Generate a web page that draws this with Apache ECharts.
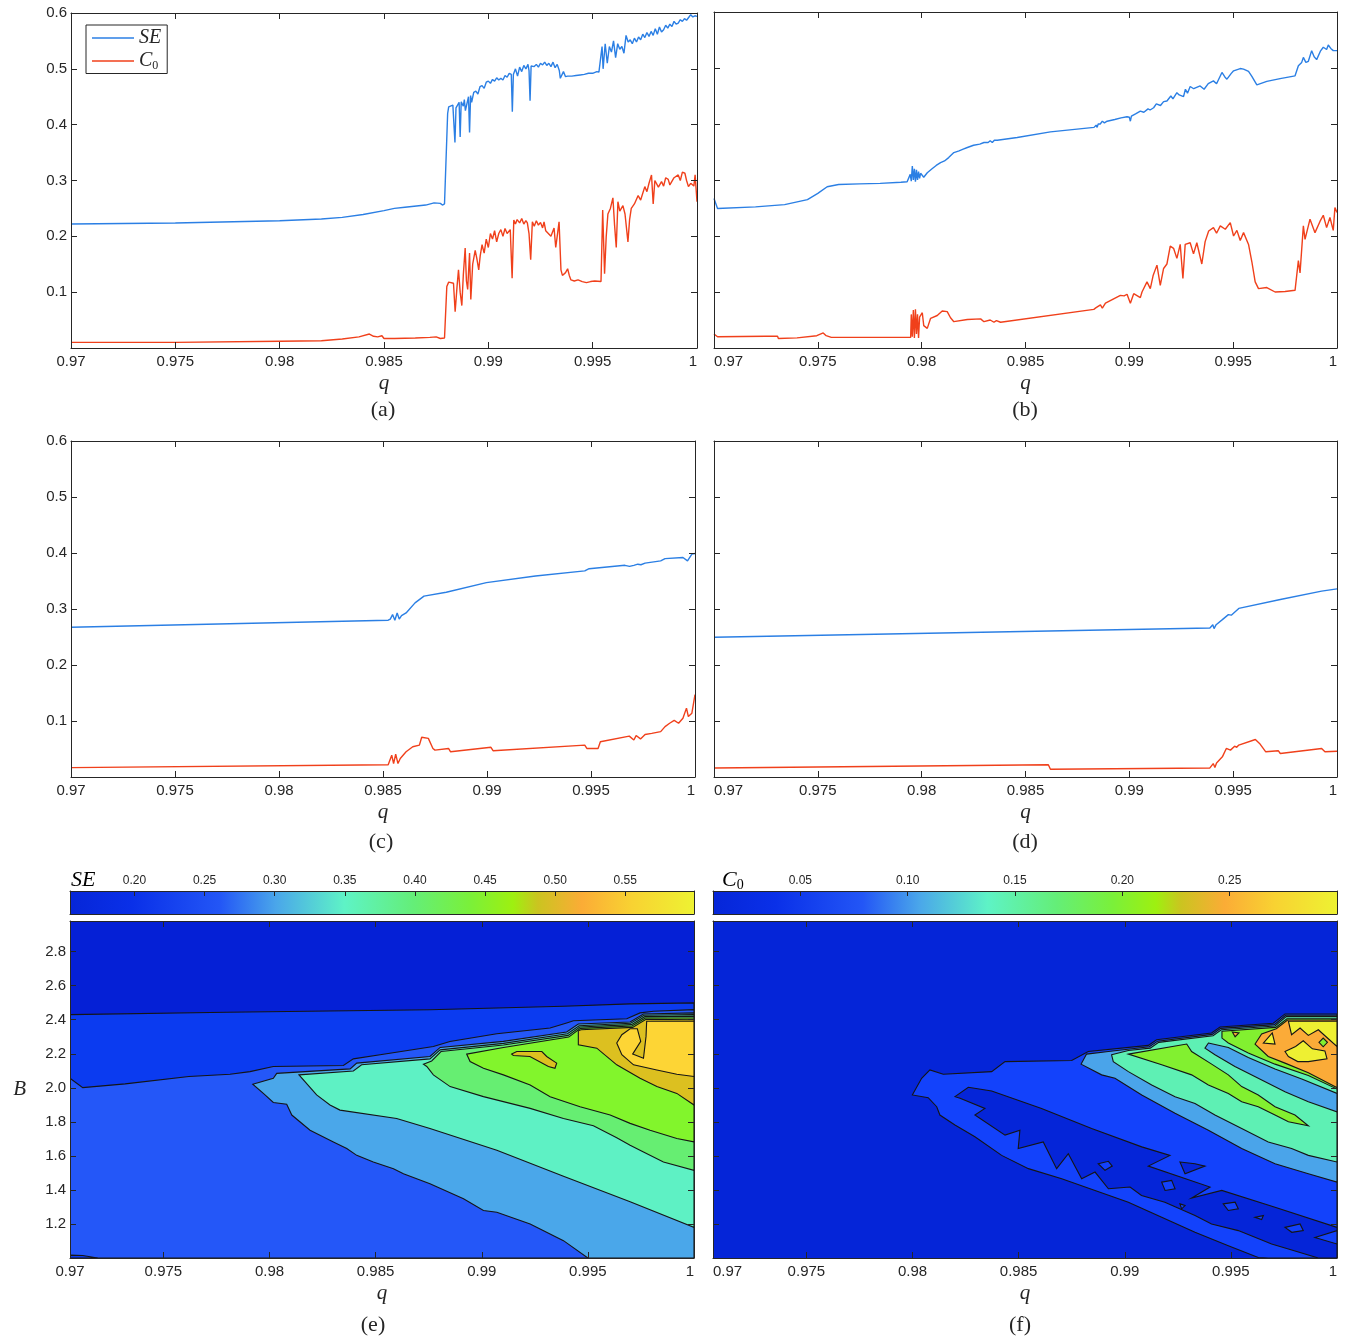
<!DOCTYPE html>
<html>
<head>
<meta charset="utf-8">
<title>SE and C0 versus q</title>
<script src="https://cdn.jsdelivr.net/npm/echarts@6/dist/echarts.min.js"></script>
<style>
html, body { margin: 0; padding: 0; background: #fff; }
#main { width: 1349px; height: 1339px; }
</style>
</head>
<body>
<div id="main"></div>
<script>
// ---- ticks ----
var qTicks = [0.975, 0.98, 0.985, 0.99, 0.995];
var qLabels = [0.97, 0.975, 0.98, 0.985, 0.99, 0.995, 1];
var qLabelsContour = [0.9706, 0.975, 0.98, 0.985, 0.99, 0.995, 1];
var valTicks = [0.1, 0.2, 0.3, 0.4, 0.5, 0.6];
var bTicks = [1.2, 1.4, 1.6, 1.8, 2.0, 2.2, 2.4, 2.6, 2.8];
var seBarTicks = [0.20, 0.25, 0.30, 0.35, 0.40, 0.45, 0.50, 0.55];
var c0BarTicks = [0.05, 0.10, 0.15, 0.20, 0.25];
var seBarRange = [0.154, 0.599];
var c0BarRange = [0.0093, 0.300];
var qRangeContour = [0.9706, 1];
var bRange = [1.0, 2.98];

// ---- (a) ----
var seA = [[0.970,0.222],[0.975,0.224],[0.980,0.228],[0.982,0.231],[0.983,0.234],[0.984,0.239],[0.985,0.246],[0.9855,0.250],[0.986,0.252],[0.987,0.256],[0.9874,0.260],[0.9877,0.259],[0.9878,0.256],[0.9879,0.258],[0.98805,0.420],[0.9881,0.432],[0.9883,0.435],[0.98835,0.434],[0.9884,0.368],[0.98845,0.430],[0.9886,0.440],[0.98865,0.378],[0.9887,0.441],[0.9888,0.433],[0.98885,0.445],[0.9889,0.425],[0.98905,0.450],[0.9891,0.386],[0.98915,0.452],[0.9892,0.440],[0.9893,0.458],[0.9894,0.460],[0.9895,0.455],[0.9896,0.468],[0.9897,0.470],[0.9898,0.465],[0.9899,0.476],[0.9900,0.478],[0.9901,0.474],[0.9902,0.481],[0.9903,0.478],[0.9904,0.484],[0.9905,0.480],[0.9906,0.483],[0.9907,0.480],[0.9908,0.488],[0.9909,0.485],[0.9910,0.492],[0.9911,0.490],[0.99115,0.423],[0.9912,0.490],[0.9913,0.500],[0.9914,0.487],[0.9915,0.503],[0.9916,0.495],[0.9917,0.506],[0.9918,0.500],[0.9919,0.508],[0.99195,0.497],[0.9920,0.443],[0.99205,0.505],[0.9921,0.508],[0.9922,0.504],[0.9923,0.508],[0.9924,0.503],[0.9925,0.510],[0.9926,0.507],[0.9927,0.512],[0.9928,0.506],[0.9929,0.510],[0.9930,0.504],[0.9931,0.512],[0.9932,0.502],[0.9933,0.508],[0.9934,0.497],[0.99345,0.483],[0.9935,0.486],[0.9936,0.495],[0.9937,0.486],[0.9938,0.487],[0.9940,0.487],[0.9942,0.488],[0.9944,0.489],[0.9946,0.490],[0.9948,0.492],[0.9950,0.492],[0.9952,0.495],[0.9953,0.494],[0.99535,0.497],[0.99545,0.540],[0.9955,0.500],[0.9956,0.545],[0.9957,0.510],[0.9958,0.540],[0.9959,0.530],[0.9960,0.550],[0.9961,0.520],[0.9962,0.545],[0.9963,0.535],[0.9964,0.540],[0.9965,0.528],[0.9966,0.560],[0.9967,0.548],[0.9968,0.552],[0.9969,0.545],[0.9970,0.555],[0.9971,0.548],[0.9972,0.557],[0.9973,0.552],[0.9974,0.562],[0.9975,0.556],[0.9976,0.565],[0.9977,0.558],[0.9978,0.567],[0.9979,0.560],[0.9980,0.572],[0.9981,0.562],[0.9982,0.575],[0.9983,0.566],[0.9984,0.570],[0.9985,0.578],[0.9986,0.573],[0.9987,0.580],[0.9988,0.576],[0.9989,0.585],[0.9990,0.580],[0.9991,0.582],[0.9992,0.588],[0.9993,0.585],[0.9994,0.590],[0.9995,0.587],[0.9996,0.592],[0.9997,0.597],[0.9998,0.593],[0.9999,0.595],[1.0,0.594]];
var c0A = [[0.970,0.010],[0.975,0.010],[0.980,0.012],[0.982,0.013],[0.983,0.016],[0.9838,0.020],[0.9843,0.025],[0.9845,0.021],[0.9847,0.020],[0.9849,0.022],[0.9850,0.017],[0.9855,0.017],[0.9865,0.018],[0.9872,0.019],[0.9875,0.020],[0.9877,0.017],[0.9879,0.018],[0.98801,0.110],[0.9881,0.118],[0.98833,0.116],[0.98841,0.065],[0.9885,0.110],[0.98857,0.140],[0.98865,0.100],[0.98873,0.076],[0.9888,0.130],[0.98889,0.179],[0.98895,0.120],[0.98901,0.105],[0.9891,0.170],[0.98916,0.087],[0.98925,0.150],[0.98937,0.175],[0.98945,0.160],[0.98954,0.140],[0.98961,0.165],[0.9897,0.185],[0.9898,0.170],[0.9899,0.195],[0.9900,0.180],[0.9901,0.205],[0.9902,0.195],[0.9903,0.210],[0.9904,0.190],[0.9905,0.205],[0.9906,0.212],[0.9907,0.200],[0.9908,0.214],[0.9909,0.205],[0.99105,0.212],[0.99114,0.125],[0.99122,0.229],[0.9913,0.222],[0.99138,0.230],[0.9915,0.224],[0.9916,0.232],[0.9917,0.222],[0.9918,0.228],[0.99187,0.224],[0.99195,0.205],[0.99203,0.158],[0.99211,0.226],[0.9922,0.218],[0.9923,0.228],[0.9924,0.220],[0.9925,0.225],[0.9926,0.215],[0.99267,0.226],[0.99275,0.210],[0.99283,0.212],[0.9930,0.200],[0.99315,0.215],[0.99323,0.180],[0.9933,0.200],[0.99339,0.226],[0.99348,0.140],[0.99355,0.130],[0.99363,0.128],[0.9937,0.135],[0.9938,0.142],[0.99388,0.130],[0.99396,0.122],[0.99412,0.120],[0.9943,0.122],[0.9945,0.119],[0.9947,0.117],[0.9949,0.119],[0.9951,0.120],[0.9954,0.119],[0.99548,0.247],[0.99557,0.133],[0.99565,0.200],[0.99573,0.240],[0.99585,0.250],[0.99597,0.269],[0.99605,0.220],[0.99613,0.180],[0.99621,0.262],[0.9963,0.245],[0.99645,0.255],[0.99655,0.240],[0.99669,0.190],[0.99677,0.230],[0.99685,0.250],[0.997,0.258],[0.99718,0.273],[0.9973,0.265],[0.9975,0.289],[0.9976,0.280],[0.9977,0.295],[0.99782,0.310],[0.9979,0.258],[0.99798,0.300],[0.99806,0.302],[0.99815,0.288],[0.9983,0.298],[0.9984,0.290],[0.9985,0.305],[0.99862,0.302],[0.9987,0.292],[0.99878,0.289],[0.9989,0.305],[0.9991,0.310],[0.9992,0.300],[0.9993,0.315],[0.99942,0.313],[0.9995,0.300],[0.99959,0.289],[0.9997,0.295],[0.99985,0.290],[0.99991,0.310],[1.0,0.262]];

// ---- (b) ----
var seB = [[0.9700,0.267],[0.97017,0.249],[0.972,0.252],[0.9734,0.256],[0.9745,0.265],[0.9750,0.276],[0.97545,0.288],[0.9760,0.292],[0.977,0.293],[0.978,0.294],[0.979,0.296],[0.9793,0.297],[0.97945,0.310],[0.9795,0.298],[0.97955,0.325],[0.9796,0.300],[0.97965,0.320],[0.9797,0.297],[0.97975,0.318],[0.9798,0.300],[0.97985,0.315],[0.9799,0.303],[0.97995,0.312],[0.9800,0.310],[0.9801,0.305],[0.98027,0.313],[0.9805,0.320],[0.9807,0.326],[0.98091,0.331],[0.9811,0.334],[0.9813,0.340],[0.98155,0.349],[0.9818,0.352],[0.9820,0.355],[0.9822,0.358],[0.9825,0.362],[0.9828,0.364],[0.9830,0.367],[0.9832,0.367],[0.9833,0.370],[0.9834,0.367],[0.9835,0.371],[0.98364,0.371],[0.9846,0.376],[0.9862,0.386],[0.9883,0.394],[0.9884,0.398],[0.98845,0.394],[0.9885,0.400],[0.9886,0.400],[0.9887,0.405],[0.9888,0.402],[0.98893,0.405],[0.9893,0.408],[0.9896,0.411],[0.98989,0.413],[0.9900,0.412],[0.99005,0.405],[0.9901,0.414],[0.9903,0.418],[0.99053,0.423],[0.9907,0.421],[0.9909,0.427],[0.9910,0.425],[0.99117,0.429],[0.9913,0.436],[0.9915,0.433],[0.99165,0.440],[0.99181,0.441],[0.9920,0.450],[0.9921,0.445],[0.99229,0.456],[0.9924,0.452],[0.99261,0.449],[0.9927,0.462],[0.9928,0.455],[0.99293,0.467],[0.9931,0.463],[0.99341,0.468],[0.9936,0.462],[0.9938,0.472],[0.99405,0.477],[0.9942,0.472],[0.99446,0.492],[0.9946,0.484],[0.9947,0.480],[0.9949,0.490],[0.99502,0.495],[0.99534,0.499],[0.9955,0.498],[0.99574,0.494],[0.9959,0.485],[0.99614,0.470],[0.99662,0.476],[0.99726,0.481],[0.99798,0.486],[0.99814,0.504],[0.9983,0.510],[0.99838,0.519],[0.9985,0.510],[0.99862,0.512],[0.99878,0.531],[0.9989,0.520],[0.99902,0.515],[0.9992,0.530],[0.99934,0.537],[0.9995,0.533],[0.99958,0.541],[0.9997,0.535],[0.99982,0.531],[1.0,0.531]];
var c0B = [[0.9700,0.025],[0.97017,0.020],[0.9725,0.021],[0.97306,0.021],[0.9731,0.017],[0.9740,0.018],[0.97495,0.022],[0.97526,0.027],[0.9754,0.022],[0.97565,0.019],[0.9790,0.019],[0.97947,0.019],[0.9795,0.060],[0.97955,0.020],[0.9796,0.068],[0.97965,0.018],[0.9797,0.069],[0.97975,0.025],[0.9798,0.060],[0.97985,0.018],[0.9799,0.055],[0.98003,0.063],[0.9801,0.040],[0.98027,0.035],[0.98043,0.053],[0.98075,0.058],[0.98099,0.066],[0.98123,0.065],[0.98139,0.054],[0.98155,0.047],[0.9822,0.051],[0.98284,0.052],[0.983,0.047],[0.9833,0.050],[0.98348,0.046],[0.9836,0.049],[0.9838,0.046],[0.98829,0.069],[0.9884,0.072],[0.98861,0.077],[0.9887,0.071],[0.98885,0.080],[0.98893,0.082],[0.98957,0.094],[0.98975,0.093],[0.98989,0.096],[0.99005,0.080],[0.99021,0.097],[0.99053,0.090],[0.99061,0.100],[0.99085,0.118],[0.99101,0.106],[0.99115,0.130],[0.99133,0.148],[0.99149,0.112],[0.99165,0.142],[0.99181,0.150],[0.99197,0.182],[0.99213,0.178],[0.99229,0.160],[0.99245,0.185],[0.99258,0.124],[0.99269,0.185],[0.99293,0.188],[0.99309,0.168],[0.99325,0.188],[0.99349,0.150],[0.99365,0.190],[0.99382,0.209],[0.99405,0.215],[0.9942,0.205],[0.99438,0.218],[0.99462,0.212],[0.99486,0.224],[0.99502,0.200],[0.99518,0.210],[0.99534,0.192],[0.9955,0.206],[0.99574,0.185],[0.9959,0.154],[0.99606,0.118],[0.99622,0.106],[0.99662,0.108],[0.99702,0.100],[0.9975,0.101],[0.99798,0.103],[0.99814,0.156],[0.99822,0.134],[0.99838,0.218],[0.99846,0.194],[0.9987,0.230],[0.99894,0.206],[0.99918,0.226],[0.99934,0.237],[0.9995,0.215],[0.99966,0.233],[0.99982,0.210],[0.9999,0.251],[1.0,0.242]];

// ---- (c) ----
var seC = [[0.97,0.2675],[0.98525,0.280],[0.98535,0.282],[0.98546,0.290],[0.98557,0.280],[0.98568,0.293],[0.98578,0.282],[0.98589,0.288],[0.98611,0.293],[0.98654,0.311],[0.98697,0.323],[0.98804,0.330],[0.98997,0.347],[0.99233,0.359],[0.9947,0.368],[0.99491,0.372],[0.99663,0.378],[0.99685,0.376],[0.99706,0.378],[0.99725,0.380],[0.9974,0.379],[0.9976,0.382],[0.99835,0.386],[0.99856,0.390],[0.99942,0.392],[0.99964,0.386],[0.99985,0.398],[1.0,0.399]];
var c0C = [[0.97,0.0168],[0.98525,0.022],[0.98542,0.039],[0.98551,0.024],[0.98561,0.041],[0.98572,0.024],[0.98583,0.033],[0.98611,0.045],[0.98643,0.054],[0.98675,0.057],[0.98686,0.071],[0.98718,0.069],[0.9874,0.051],[0.9875,0.048],[0.98815,0.051],[0.98825,0.045],[0.99019,0.053],[0.99029,0.047],[0.9947,0.057],[0.9948,0.051],[0.99534,0.051],[0.99545,0.063],[0.99684,0.073],[0.99706,0.066],[0.99717,0.074],[0.99738,0.068],[0.9976,0.076],[0.99792,0.078],[0.99835,0.081],[0.99856,0.090],[0.99878,0.096],[0.999,0.101],[0.99921,0.096],[0.99942,0.105],[0.99959,0.123],[0.99968,0.108],[0.99985,0.114],[1.0,0.147]];

// ---- (d) ----
var seD = [[0.97,0.2495],[0.99388,0.266],[0.99402,0.272],[0.99408,0.265],[0.99418,0.272],[0.99448,0.281],[0.99477,0.290],[0.99491,0.289],[0.99527,0.301],[0.99727,0.317],[0.99926,0.332],[1.0,0.336]];
var c0D = [[0.97,0.0162],[0.9861,0.022],[0.9862,0.0138],[0.99388,0.0162],[0.99404,0.024],[0.99412,0.017],[0.9942,0.025],[0.99428,0.024],[0.99448,0.036],[0.99467,0.051],[0.99487,0.048],[0.99507,0.055],[0.99517,0.053],[0.99527,0.057],[0.99607,0.067],[0.99627,0.060],[0.99657,0.045],[0.99717,0.047],[0.99727,0.042],[0.99926,0.051],[0.99942,0.045],[1.0,0.046]];

// ---- (e) SE contour regions, [q, B] ----
var eFrame = [[0.9706,1.0],[1.0,1.0],[1.0,2.98],[0.9706,2.98]];
var eLevel1 = [[0.9706,2.430],[0.978,2.444],[0.98756,2.459],[0.99385,2.479],[0.99699,2.493],[1.0,2.499],[1.0,1.0],[0.9706,1.0]];
var eLevel2 = [[0.9706,2.056],[0.9712,2.001],[0.9732,2.023],[0.9762,2.066],[0.97814,2.080],[0.97908,2.095],[0.98018,2.125],[0.98348,2.131],[0.98395,2.170],[0.98521,2.194],[0.98772,2.243],[0.9885,2.272],[0.99071,2.318],[0.99322,2.351],[0.994,2.381],[0.99432,2.394],[0.99683,2.406],[0.99746,2.440],[0.99809,2.450],[1.0,2.459],[1.0,1.0],[0.9706,1.0]];
var eCorner = [[0.9706,1.0],[0.9706,1.017],[0.9712,1.015],[0.9719,1.0]];
var eLevel3 = [[0.97921,2.021],[0.98018,2.056],[0.98034,2.085],[0.98380,2.111],[0.98411,2.145],[0.98756,2.184],[0.98804,2.237],[0.99102,2.273],[0.99400,2.328],[0.99455,2.375],[0.99699,2.387],[0.99762,2.434],[1.0,2.440],[1.0,1.0],[0.9950,1.0],[0.99385,1.102],[0.99228,1.200],[0.99071,1.269],[0.99008,1.279],[0.98914,1.348],[0.98756,1.436],[0.98631,1.495],[0.98584,1.525],[0.98489,1.564],[0.98411,1.603],[0.98364,1.643],[0.98301,1.682],[0.98191,1.751],[0.98105,1.840],[0.98081,1.903],[0.98018,1.914],[0.97971,1.967]];
var eLevel4 = [[0.98139,2.076],[0.98395,2.099],[0.98434,2.135],[0.98756,2.170],[0.98804,2.223],[0.99102,2.261],[0.99404,2.318],[0.99459,2.365],[0.99702,2.379],[0.99765,2.426],[1.0,2.430],[1.0,1.18],[0.99699,1.33],[0.99385,1.48],[0.99071,1.633],[0.98756,1.761],[0.98599,1.820],[0.98332,1.869],[0.98285,1.899],[0.98222,1.958]];
var eLevel5 = [[0.98725,2.139],[0.98764,2.158],[0.98808,2.213],[0.99102,2.251],[0.99407,2.308],[0.99462,2.357],[0.99705,2.371],[0.99768,2.418],[1.0,2.420],[1.0,1.515],[0.99856,1.564],[0.99762,1.623],[0.99699,1.663],[0.99636,1.706],[0.99526,1.777],[0.99385,1.820],[0.99228,1.879],[0.99008,1.948],[0.98851,2.007],[0.98772,2.076],[0.98741,2.125]];
var eLevel6 = [[0.98929,2.198],[0.99102,2.237],[0.99410,2.298],[0.99465,2.349],[0.99708,2.363],[0.99771,2.410],[1.0,2.410],[1.0,1.682],[0.99919,1.702],[0.99793,1.751],[0.99699,1.791],[0.99605,1.840],[0.99463,1.889],[0.99322,1.948],[0.99228,2.017],[0.99102,2.076],[0.99008,2.115],[0.98945,2.154]];
var eLevel7 = [[0.99455,2.253],[0.99455,2.335],[0.99468,2.341],[0.99711,2.355],[0.99774,2.402],[1.0,2.400],[1.0,1.899],[0.99919,1.967],[0.99825,2.007],[0.99746,2.056],[0.99636,2.135],[0.99542,2.233]];
var eIsland7 = [[0.99141,2.198],[0.99165,2.213],[0.99283,2.213],[0.99306,2.184],[0.99353,2.145],[0.99345,2.115],[0.99314,2.125],[0.99227,2.184],[0.99149,2.190]];
var eLevel8 = [[0.99699,2.347],[0.99733,2.347],[0.99749,2.273],[0.99711,2.198],[0.99762,2.174],[0.99774,2.302],[0.99777,2.391],[1.0,2.391],[1.0,2.066],[0.99919,2.080],[0.99825,2.105],[0.99715,2.135],[0.9966,2.194],[0.99636,2.263],[0.9966,2.312]];

// ---- (f) C0 contour regions, [q, B] ----
var fFrame = [[0.9706,1.0],[1.0,1.0],[1.0,2.98],[0.9706,2.98]];
var fLevel1 = [[0.97999,1.958],[0.98043,2.056],[0.98082,2.105],[0.98145,2.080],[0.98373,2.095],[0.98436,2.154],[0.9875,2.160],[0.98828,2.213],[0.99111,2.249],[0.9915,2.282],[0.99409,2.322],[0.99449,2.357],[0.9970,2.379],[0.99755,2.434],[1.0,2.434],[1.0,1.0],[0.99676,1.0],[0.99629,1.003],[0.99488,1.072],[0.99331,1.151],[0.99174,1.239],[0.99017,1.328],[0.9886,1.397],[0.98703,1.466],[0.98546,1.525],[0.9842,1.603],[0.98294,1.712],[0.982,1.781],[0.98129,1.840],[0.98114,1.889],[0.98074,1.942]];
var fHole = [[0.982,1.948],[0.98263,2.003],[0.98373,1.981],[0.98608,1.879],[0.98844,1.761],[0.9908,1.653],[0.99213,1.603],[0.99111,1.540],[0.99402,1.417],[0.99315,1.352],[0.99457,1.397],[0.99708,1.298],[1.0,1.180],[1.0,1.0],[0.99912,1.0],[0.99771,1.053],[0.99692,1.082],[0.99535,1.161],[0.99409,1.200],[0.99331,1.249],[0.99189,1.328],[0.99079,1.367],[0.99025,1.417],[0.98923,1.407],[0.9886,1.505],[0.98797,1.466],[0.98734,1.613],[0.98679,1.525],[0.98616,1.682],[0.98498,1.643],[0.98506,1.751],[0.98436,1.722],[0.98294,1.840],[0.98341,1.879],[0.98224,1.938]];
var fHole2 = [[0.9926,1.564],[0.99331,1.554],[0.99378,1.540],[0.99284,1.495]];
var fIslands = [
  [[0.98875,1.554],[0.98923,1.568],[0.98941,1.540],[0.98907,1.515]],
  [[0.99174,1.446],[0.99221,1.456],[0.99237,1.407],[0.9919,1.397]],
  [[0.99464,1.318],[0.9952,1.328],[0.99535,1.289],[0.99488,1.279]],
  [[0.99755,1.180],[0.99826,1.200],[0.99841,1.161],[0.99787,1.151]],
  [[0.99896,1.121],[1.0,1.161],[1.0,1.082]],
  [[0.9926,1.318],[0.99284,1.308],[0.99268,1.289]],
  [[0.99614,1.239],[0.99653,1.249],[0.99645,1.226]]
];
var fLevel2 = [[0.98794,2.139],[0.9882,2.198],[0.98923,2.213],[0.99116,2.241],[0.99155,2.274],[0.99412,2.314],[0.99452,2.349],[0.99705,2.371],[0.99758,2.426],[1.0,2.426],[1.0,1.446],[0.99865,1.495],[0.99708,1.554],[0.99551,1.643],[0.99394,1.751],[0.99237,1.850],[0.9908,1.958],[0.98954,2.056],[0.98891,2.076]];
var fLevel3 = [[0.98938,2.194],[0.99017,2.219],[0.9912,2.233],[0.9916,2.267],[0.99416,2.306],[0.99455,2.341],[0.99708,2.363],[0.99761,2.418],[1.0,2.418],[1.0,1.564],[0.99865,1.603],[0.99786,1.643],[0.99676,1.682],[0.99551,1.761],[0.99425,1.840],[0.99331,1.908],[0.99237,1.948],[0.99127,2.017],[0.99017,2.095],[0.98946,2.154]];
var fRidge4 = [[0.99017,2.198],[0.99292,2.257],[0.99315,2.213],[0.99402,2.145],[0.99488,2.076],[0.99551,2.007],[0.99629,1.958],[0.99708,1.889],[0.99802,1.840],[0.99865,1.777],[0.99771,1.800],[0.99708,1.840],[0.99629,1.889],[0.99551,1.918],[0.99488,1.967],[0.99394,2.017],[0.99315,2.076],[0.99174,2.135]];
var fValley2 = [[0.99394,2.263],[0.99488,2.237],[0.99582,2.178],[0.99708,2.111],[0.99834,2.052],[1.0,1.967],[1.0,1.859],[0.99865,1.918],[0.99755,1.977],[0.99629,2.056],[0.99519,2.125],[0.99425,2.194],[0.99378,2.233]];
var fLevel4 = [[0.99458,2.292],[0.99458,2.332],[0.99711,2.355],[0.99764,2.406],[1.0,2.406],[1.0,1.993],[0.99865,2.072],[0.99708,2.139],[0.99582,2.204],[0.99488,2.263]];
var fLevel5 = [[0.99614,2.257],[0.99645,2.316],[0.99714,2.347],[0.99767,2.398],[1.0,2.398],[1.0,2.001],[0.99865,2.088],[0.99755,2.145],[0.99676,2.184]];
var fSpot5 = [[0.99507,2.328],[0.99538,2.322],[0.9952,2.300]];
var fLevel6 = [[0.99771,2.391],[1.0,2.391],[1.0,2.243],[0.99959,2.288],[0.99912,2.341],[0.99865,2.308],[0.99826,2.351],[0.99786,2.312]];
var fTri6 = [[0.99653,2.263],[0.99695,2.322],[0.99708,2.257]];
var fIsland6 = [[0.99755,2.213],[0.99805,2.243],[0.99841,2.276],[0.99884,2.229],[0.99943,2.217],[0.99953,2.170],[0.99865,2.154],[0.99815,2.154],[0.99771,2.184]];
var fDiamond4 = [[0.99915,2.267],[0.99935,2.292],[0.99955,2.267],[0.99935,2.241]];

// ---- styles ----
var INK = '#262626';
var SANS = "'Liberation Sans', Arial, Helvetica, sans-serif";
var SERIF = "'Liberation Serif', 'Times New Roman', serif";
var BLUE = '#2b7fe4';
var RED = '#f0401b';
var barStops = [
  [0, '#0626d8'], [0.1, '#0a30e8'], [0.24, '#2356f6'], [0.33, '#4aa6ea'], [0.44, '#5ef3c6'],
  [0.55, '#64ee78'], [0.64, '#7af03a'], [0.71, '#9ef010'], [0.75, '#cbc420'], [0.82, '#fbac36'],
  [0.9, '#f8d232'], [1, '#eef232']
];

var eRegions = [
  { pts: eFrame, color: '#0520d6', line: false },
  { pts: eLevel1, color: '#0b3bf0', line: true },
  { pts: eLevel2, color: '#2457f8', line: true },
  { pts: eCorner, color: '#0b3bf0', line: true },
  { pts: eLevel3, color: '#4aa7ea', line: true },
  { pts: eLevel4, color: '#5ef1c4', line: true },
  { pts: eLevel5, color: '#66ee72', line: true },
  { pts: eLevel6, color: '#82f52c', line: true },
  { pts: eLevel7, color: '#dcc020', line: true },
  { pts: eIsland7, color: '#dcc020', line: true },
  { pts: eLevel8, color: '#fdd535', line: true }
];
var fRegions = [
  { pts: fFrame, color: '#0525d8', line: false },
  { pts: fLevel1, color: '#1342fb', line: true },
  { pts: fHole, color: '#0525d8', line: true },
  { pts: fHole2, color: '#0525d8', line: true }
].concat(fIslands.map(function (p) { return { pts: p, color: '#1342fb', line: true }; })).concat([
  { pts: fLevel2, color: '#4aa4ea', line: true },
  { pts: fLevel3, color: '#5ef0b4', line: true },
  { pts: fRidge4, color: '#82f030', line: true },
  { pts: fValley2, color: '#4aa4ea', line: true },
  { pts: fLevel4, color: '#82f030', line: true },
  { pts: fLevel5, color: '#fbab38', line: true },
  { pts: fSpot5, color: '#fbab38', line: true },
  { pts: fLevel6, color: '#eef032', line: true },
  { pts: fTri6, color: '#eef032', line: true },
  { pts: fIsland6, color: '#eef032', line: true },
  { pts: fDiamond4, color: '#82f030', line: true }
]);

function fmtQ(v) { return v < 0.9725 ? '0.97' : String(+v.toFixed(3)); }
function fmt1(v) { return v.toFixed(1); }
function fmt2(v) { return v.toFixed(2); }

function makeAxis(grid, min, max, pos, o) {
  o = o || {};
  return {
    type: 'value', gridIndex: grid, position: pos, min: min, max: max, z: 10,
    axisLine: { show: true, onZero: false, lineStyle: { color: INK, width: 1 } },
    axisTick: { show: !!o.ticks, inside: true, length: o.tickLen || 6, customValues: o.ticks, lineStyle: { color: INK, width: 1 } },
    axisLabel: { show: !!o.labels, customValues: o.labels, formatter: o.fmt, color: INK,
      fontSize: o.fontSize || 15, fontFamily: SANS, margin: o.margin || 6,
      alignMinLabel: o.alignMin, alignMaxLabel: o.alignMax },
    splitLine: { show: false },
    name: o.name || '', nameLocation: 'middle', nameGap: o.nameGap || 25, nameRotate: 0,
    nameTextStyle: { fontFamily: SERIF, fontStyle: 'italic', fontSize: 21, color: INK }
  };
}

var grids = [
  { left: 71, top: 13, width: 626, height: 335 },   // a
  { left: 714, top: 12, width: 623, height: 336 },  // b
  { left: 71, top: 441, width: 624, height: 336 },  // c
  { left: 714, top: 441, width: 623, height: 336 }, // d
  { left: 70, top: 891, width: 624, height: 23 },   // e colour bar
  { left: 713, top: 891, width: 624, height: 23 },  // f colour bar
  { left: 70, top: 921, width: 624, height: 337 },  // e
  { left: 713, top: 921, width: 624, height: 337 }  // f
].map(function (g) { g.containLabel = false; g.outerBoundsMode = 'none'; return g; });

var xAxes = [], yAxes = [];
[0, 1, 2, 3].forEach(function (g) {
  var leftCol = (g === 0 || g === 2);
  xAxes.push(makeAxis(g, 0.97, 1, 'bottom', { ticks: qTicks, labels: qLabels, fmt: fmtQ, name: 'q',
    alignMin: leftCol ? 'center' : 'left', alignMax: 'right' }));
  xAxes.push(makeAxis(g, 0.97, 1, 'top', { ticks: qTicks }));
  yAxes.push(makeAxis(g, 0, 0.6, 'left', { ticks: valTicks, labels: leftCol ? valTicks : null, fmt: fmt1, margin: 4 }));
  yAxes.push(makeAxis(g, 0, 0.6, 'right', { ticks: valTicks }));
});
[[4, seBarRange, seBarTicks], [5, c0BarRange, c0BarTicks]].forEach(function (c) {
  xAxes.push(makeAxis(c[0], c[1][0], c[1][1], 'bottom', {}));
  xAxes.push(makeAxis(c[0], c[1][0], c[1][1], 'top', { ticks: c[2], labels: c[2], fmt: fmt2, fontSize: 12, margin: 4, tickLen: 5 }));
  yAxes.push(makeAxis(c[0], 0, 1, 'left', {}));
  yAxes.push(makeAxis(c[0], 0, 1, 'right', {}));
});
[6, 7].forEach(function (g) {
  xAxes.push(makeAxis(g, qRangeContour[0], qRangeContour[1], 'bottom', { ticks: qTicks, labels: qLabelsContour, fmt: fmtQ, name: 'q',
    alignMin: g === 6 ? 'center' : 'left', alignMax: 'right' }));
  xAxes.push(makeAxis(g, qRangeContour[0], qRangeContour[1], 'top', { ticks: qTicks }));
  yAxes.push(makeAxis(g, bRange[0], bRange[1], 'left', { ticks: bTicks, labels: g === 6 ? bTicks : null, fmt: fmt1, margin: 4, name: g === 6 ? 'B' : '', nameGap: 44 }));
  yAxes.push(makeAxis(g, bRange[0], bRange[1], 'right', { ticks: bTicks }));
});

function lineSeries(name, g, data, color) {
  return {
    type: 'line', name: name, xAxisIndex: 2 * g, yAxisIndex: 2 * g, data: data,
    showSymbol: false, symbol: 'none', clip: true, animation: false,
    lineStyle: { color: color, width: 1.4 }, itemStyle: { color: color }
  };
}

function regionSeries(g, regions) {
  return {
    type: 'custom', xAxisIndex: 2 * g, yAxisIndex: 2 * g, clip: true, z: 1,
    data: regions.map(function (r, i) { return [i]; }),
    renderItem: function (params, api) {
      var r = regions[params.dataIndex];
      return {
        type: 'polygon',
        shape: { points: r.pts.map(function (p) { return api.coord(p); }) },
        style: { fill: r.color, stroke: r.line ? '#151515' : null, lineWidth: 1.1 }
      };
    }
  };
}

function barSeries(g, range) {
  return {
    type: 'custom', xAxisIndex: 2 * g, yAxisIndex: 2 * g, z: 1,
    data: [[range[0], 0]],
    renderItem: function (params, api) {
      var p0 = api.coord([range[0], 0]);
      var p1 = api.coord([range[1], 1]);
      return {
        type: 'rect',
        shape: { x: p0[0], y: p1[1], width: p1[0] - p0[0], height: p0[1] - p1[1] },
        style: { fill: new echarts.graphic.LinearGradient(0, 0, 1, 0, barStops.map(function (s) { return { offset: s[0], color: s[1] }; })) }
      };
    }
  };
}

function richSub(size) {
  return {
    i: { fontFamily: SERIF, fontStyle: 'italic', fontSize: size, color: INK },
    s: { fontFamily: SERIF, fontSize: Math.round(size * 0.62), color: INK, verticalAlign: 'bottom', padding: [Math.round(size * 0.45), 0, 0, 0] }
  };
}

var captions = [
  ['(a)', 383, 410], ['(b)', 1025, 410], ['(c)', 381, 842], ['(d)', 1025, 842], ['(e)', 373, 1325], ['(f)', 1020, 1325]
];

var option = {
  backgroundColor: '#fff',
  animation: false,
  grid: grids,
  xAxis: xAxes,
  yAxis: yAxes,
  legend: {
    data: ['SE', 'C0'], left: 86, top: 25, orient: 'vertical', icon: 'rect',
    itemWidth: 42, itemHeight: 1.5, itemGap: 3, padding: [3, 6, 2, 6],
    borderColor: INK, borderWidth: 1, backgroundColor: '#fff', selectedMode: false,
    formatter: function (n) { return n === 'SE' ? '{i|SE}' : '{i|C}{s|0}'; },
    textStyle: { rich: richSub(20) }
  },
  graphic: captions.map(function (c) {
    return { type: 'text', x: c[1], y: c[2], style: { text: c[0], font: '22px ' + SERIF, fill: INK, align: 'center', verticalAlign: 'middle' } };
  }).concat([
    { type: 'text', x: 71, y: 880, style: { text: '{i|SE}', rich: richSub(22), align: 'left', verticalAlign: 'middle' } },
    { type: 'text', x: 722, y: 880, style: { text: '{i|C}{s|0}', rich: richSub(22), align: 'left', verticalAlign: 'middle' } }
  ]),
  series: [
    lineSeries('SE', 0, seA, BLUE), lineSeries('C0', 0, c0A, RED),
    lineSeries('SE', 1, seB, BLUE), lineSeries('C0', 1, c0B, RED),
    lineSeries('SE', 2, seC, BLUE), lineSeries('C0', 2, c0C, RED),
    lineSeries('SE', 3, seD, BLUE), lineSeries('C0', 3, c0D, RED),
    barSeries(4, seBarRange), barSeries(5, c0BarRange),
    regionSeries(6, eRegions), regionSeries(7, fRegions)
  ]
};

var myChart = echarts.init(document.getElementById('main'), null, { renderer: 'canvas' });
myChart.setOption(option);
</script>
</body>
</html>
